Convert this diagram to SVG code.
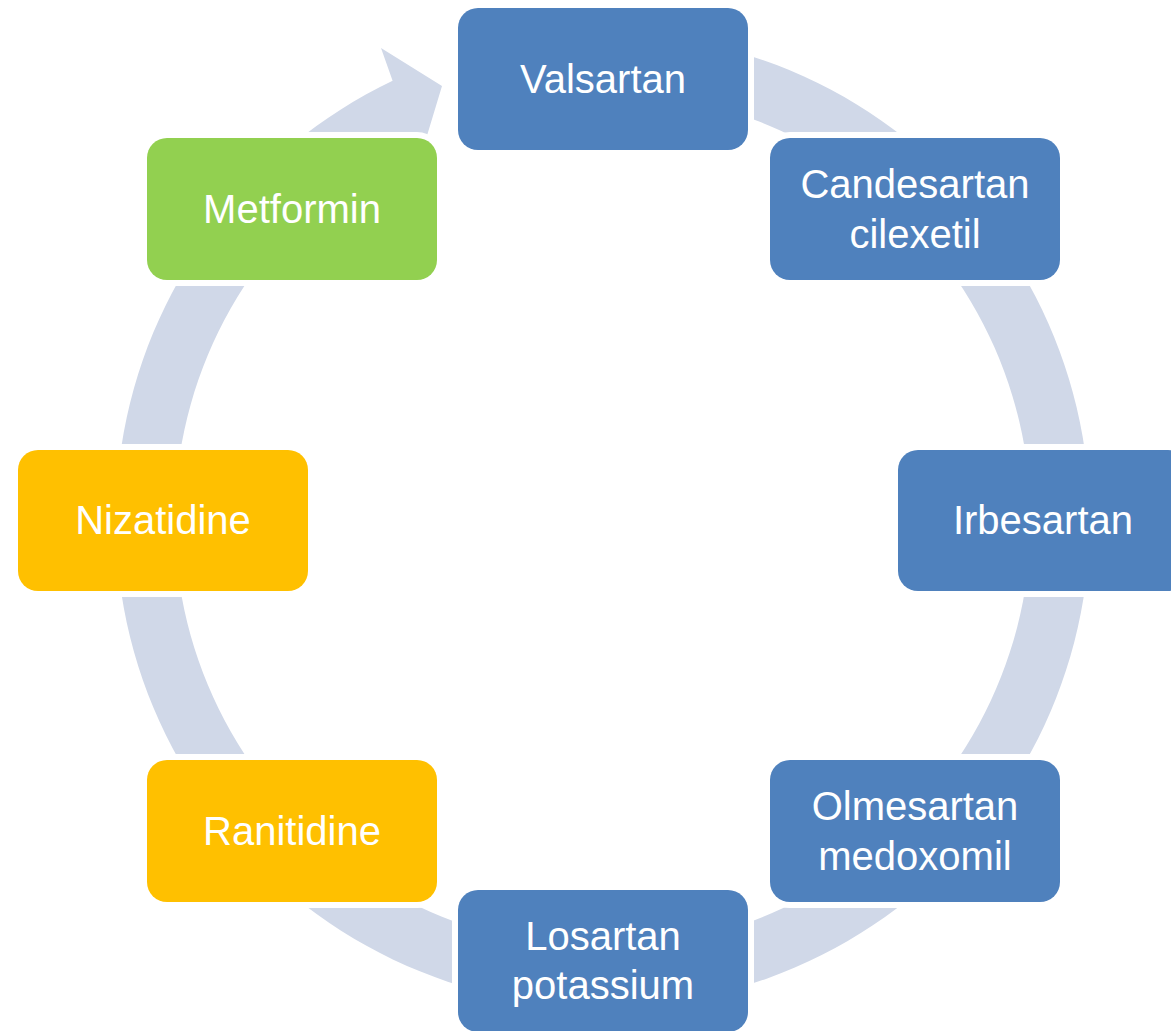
<svg xmlns="http://www.w3.org/2000/svg" width="1171" height="1031" viewBox="0 0 1171 1031">
<style>
.box{stroke:#FFFFFF;stroke-width:12;paint-order:stroke}
.blue{fill:#4F81BD}
.green{fill:#92D050}
.gold{fill:#FFC000}
.lbl{font-family:"Liberation Sans",Arial,sans-serif;font-size:40px;fill:#FFFFFF;text-anchor:middle}
</style>
<rect x="0" y="0" width="1171" height="1031" fill="#FFFFFF"/>
<g id="connectors">
<path d="M 603,33 A 487 487 0 1 1 392.6,80.7 L 381,48 L 442,86 L 416,172 L 410,140 L 418.1,133.9 A 428 428 0 1 0 603,92 Z" fill="#D0D8E8"/>
</g>
<g id="valsartan">
<rect class="box blue" x="458" y="8" width="290" height="142" rx="20"/>
<text class="lbl" x="603" y="93">Valsartan</text>
</g>
<g id="candesartan">
<rect class="box blue" x="770" y="138" width="290" height="142" rx="20"/>
<text class="lbl" x="915" y="198">Candesartan</text>
<text class="lbl" x="915" y="248">cilexetil</text>
</g>
<g id="irbesartan">
<rect class="box blue" x="898" y="450" width="290" height="141" rx="20"/>
<text class="lbl" x="1043" y="534">Irbesartan</text>
</g>
<g id="olmesartan">
<rect class="box blue" x="770" y="760" width="290" height="142" rx="20"/>
<text class="lbl" x="915" y="820">Olmesartan</text>
<text class="lbl" x="915" y="870">medoxomil</text>
</g>
<g id="losartan">
<rect class="box blue" x="458" y="890" width="290" height="142" rx="20"/>
<text class="lbl" x="603" y="950">Losartan</text>
<text class="lbl" x="603" y="999">potassium</text>
</g>
<g id="ranitidine">
<rect class="box gold" x="147" y="760" width="290" height="142" rx="20"/>
<text class="lbl" x="292" y="845">Ranitidine</text>
</g>
<g id="nizatidine">
<rect class="box gold" x="18" y="450" width="290" height="141" rx="20"/>
<text class="lbl" x="163" y="534">Nizatidine</text>
</g>
<g id="metformin">
<rect class="box green" x="147" y="138" width="290" height="142" rx="20"/>
<text class="lbl" x="292" y="223">Metformin</text>
</g>
</svg>
